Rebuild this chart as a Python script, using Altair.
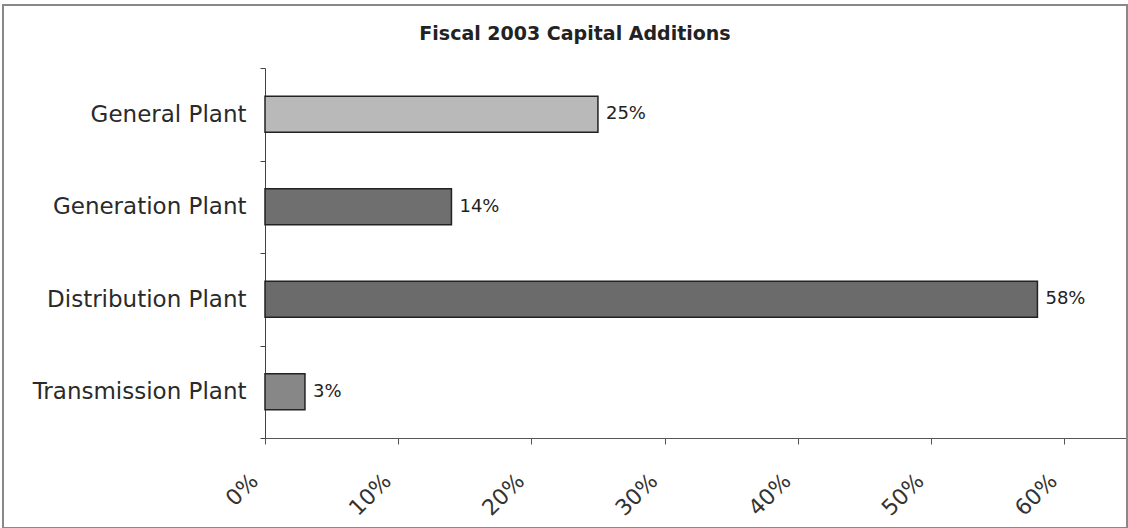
import altair as alt
import pandas as pd

categories = ["General Plant", "Generation Plant", "Distribution Plant", "Transmission Plant"]
values = [0.25, 0.14, 0.58, 0.03]
labels = ["25%", "14%", "58%", "3%"]
colors = ["#b9b9b9", "#6f6f6f", "#6b6b6b", "#878787"]
x_ticks = [0, 0.1, 0.2, 0.3, 0.4, 0.5, 0.6]
title_text = "Fiscal 2003 Capital Additions"

df = pd.DataFrame({"cat": categories, "val": values, "lab": labels, "col": colors})

y_enc = alt.Y("cat:N", sort=categories, title=None,
              scale=alt.Scale(paddingInner=0, paddingOuter=0),
              axis=alt.Axis(tickBand="extent", labelFontSize=23, labelFont="DejaVu Sans",
                            labelColor="#2a2a2a", domainColor="#444", tickColor="#444",
                            tickSize=5, labelPadding=14, grid=False, labelLimit=400))
x_enc = alt.X("val:Q", title=None,
              scale=alt.Scale(domain=[0, 0.648], nice=False, zero=True),
              axis=alt.Axis(values=x_ticks, format=".0%", labelAngle=-45, labelAlign="right",
                            labelBaseline="middle", labelFontSize=22, labelFont="DejaVu Sans",
                            labelColor="#333", domainColor="#555", tickColor="#555",
                            tickSize=6, labelPadding=33, labelOffset=-11, grid=False))

bars = alt.Chart(df).mark_bar(stroke="#222", strokeWidth=1.5, height={"band": 0.39}).encode(
    x=x_enc, y=y_enc, color=alt.Color("col:N", scale=None)
)
text = alt.Chart(df).mark_text(align="left", dx=8, fontSize=18, font="DejaVu Sans", color="#222").encode(
    x="val:Q", y=alt.Y("cat:N", sort=categories), text="lab:N"
)
frame = alt.Chart(df).mark_rect(fill=None, stroke="#888", strokeWidth=2).encode(
    x=alt.value(-262), x2=alt.value(862), y=alt.value(-63), y2=alt.value(460)
)
title = alt.Chart(pd.DataFrame({"t": [title_text]})).mark_text(
    fontSize=19, font="DejaVu Sans", fontWeight="bold", color="#222",
    align="center", baseline="middle"
).encode(x=alt.value(310), y=alt.value(-34), text="t:N")

chart = alt.layer(frame, bars, text, title).properties(
    width=863, height=370,
    padding={"left": 265, "top": 68, "right": 0, "bottom": 90},
    autosize=alt.AutoSizeParams(type="none"),
).configure_view(stroke=None)

chart.save("out.html", embed_options={"renderer": "svg", "actions": False})
